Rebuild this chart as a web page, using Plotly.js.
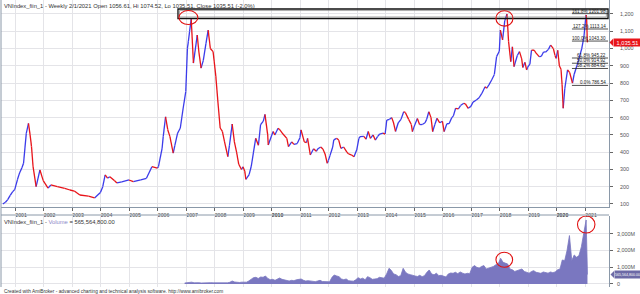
<!DOCTYPE html>
<html><head><meta charset="utf-8">
<script src="https://cdn.plot.ly/plotly-3.0.1.min.js"></script>
<style>html,body{margin:0;padding:0;background:#fff;}#chart{width:640px;height:294px;}</style>
</head><body><div id="chart"></div>
<script>
// ---------- DATA ----------
const priceDates = [
 '2000-07-28','2000-08-31','2000-09-29','2000-10-31','2000-11-30','2000-12-29',
 '2001-01-31','2001-02-28','2001-03-30','2001-04-20','2001-05-25','2001-06-22','2001-07-13','2001-07-31','2001-08-20','2001-09-28','2001-11-16','2001-12-28',
 '2002-02-28','2002-04-05','2002-06-28','2002-09-30','2002-12-06',
 '2003-01-31','2003-04-11','2003-07-31','2003-10-17','2003-12-31',
 '2004-01-30','2004-03-01','2004-03-31','2004-04-30','2004-06-30','2004-07-30','2004-09-30','2004-12-31',
 '2005-02-25','2005-05-31','2005-08-12','2005-10-21','2005-12-30',
 '2006-01-13','2006-02-28','2006-03-15','2006-04-14','2006-05-12','2006-06-09','2006-07-21','2006-08-11','2006-09-15','2006-10-20','2006-11-24','2006-12-29',
 '2007-01-19','2007-01-31','2007-02-16','2007-03-09','2007-04-06','2007-05-25','2007-06-15','2007-07-13','2007-08-10','2007-09-14','2007-10-12','2007-11-09','2007-12-14','2007-12-28',
 '2008-01-18','2008-02-15','2008-03-14','2008-04-11','2008-05-09','2008-06-20','2008-07-11','2008-08-15','2008-09-12','2008-10-10','2008-11-07','2008-12-12','2008-12-31',
 '2009-01-23','2009-02-06','2009-03-20','2009-04-17','2009-05-15','2009-06-12','2009-07-17','2009-08-14','2009-09-18','2009-10-09','2009-11-13','2009-11-20','2009-12-31',
 '2010-01-22','2010-02-12','2010-03-26','2010-04-16','2010-05-28','2010-07-16','2010-08-06','2010-09-17','2010-10-15','2010-11-26','2010-12-31',
 '2011-01-14','2011-02-25','2011-03-25','2011-04-08','2011-05-13','2011-06-24','2011-07-29','2011-08-19','2011-09-23','2011-10-21','2011-11-18','2011-12-16','2011-12-30',
 '2012-01-20','2012-02-24','2012-03-09','2012-04-13','2012-05-11','2012-06-08','2012-07-13','2012-08-24','2012-09-14','2012-10-19','2012-11-23','2012-12-28',
 '2013-01-25','2013-02-08','2013-03-29','2013-04-26','2013-05-24','2013-06-21','2013-07-26','2013-08-23','2013-09-20','2013-10-18','2013-11-29','2013-12-27',
 '2014-01-17','2014-02-21','2014-03-21','2014-04-11','2014-05-09','2014-06-13','2014-07-18','2014-08-22','2014-09-12','2014-10-24','2014-11-28','2014-12-12','2014-12-31',
 '2015-02-13','2015-03-13','2015-04-17','2015-05-22','2015-06-12','2015-07-10','2015-08-07','2015-08-28','2015-09-25','2015-10-23','2015-11-27','2015-12-31',
 '2016-01-22','2016-02-26','2016-03-25','2016-04-29','2016-05-20','2016-06-17','2016-07-22','2016-08-19','2016-09-30','2016-10-21','2016-11-25','2016-12-30',
 '2017-01-27','2017-03-10','2017-04-14','2017-05-19','2017-06-30','2017-07-21','2017-08-18','2017-09-22','2017-10-27','2017-11-24','2017-12-29',
 '2018-01-12','2018-02-09','2018-03-09','2018-04-06','2018-04-27','2018-05-25','2018-06-15','2018-07-06','2018-08-17','2018-09-14','2018-10-12','2018-10-26','2018-11-23','2018-12-14','2018-12-28',
 '2019-01-25','2019-02-15','2019-03-22','2019-04-12','2019-05-24','2019-06-21','2019-07-19','2019-08-16','2019-09-20','2019-10-18','2019-11-22','2019-12-13','2019-12-27',
 '2020-01-17','2020-02-07','2020-02-28','2020-03-13','2020-03-27','2020-04-17','2020-05-22','2020-06-19','2020-07-24','2020-08-14','2020-09-18','2020-10-16','2020-11-20','2020-12-18',
 '2021-01-08','2021-01-15','2021-01-22','2021-01-29','2021-02-01'
];
const priceClose = [
 100,110,125,150,170,185,
 240,280,310,336,509,567,500,432,316,200,297,235,
 192,210,200,190,181,
 175,152,145,135,166,
 200,268,250,258,235,222,228,239,
 229,240,249,316,307,
 316,420,490,605,530,490,395,440,510,540,650,751,
 1000,1041,1100,1170,916,1078,980,887,930,1030,1107,1000,982,927,
 840,685,540,520,460,374,440,563,460,400,330,300,315,
 290,243,270,320,400,480,440,560,580,619,500,442,494,
 520,499,539,530,505,480,432,460,445,450,484,
 529,460,455,480,384,420,405,420,430,418,390,336,351,
 380,430,471,480,470,422,430,400,390,385,374,414,
 480,490,491,475,520,480,500,470,490,505,510,505,
 586,590,600,575,520,570,590,634,630,590,560,519,545,
 595,560,560,570,590,634,600,519,560,596,570,579,
 519,565,565,600,610,654,650,670,683,680,654,665,
 690,702,715,740,779,770,790,818,850,953,984,
 1107,1050,1160,1200,1040,924,1010,895,960,982,940,890,920,876,892,
 910,991,990,975,953,955,980,980,995,1020,1000,960,943,
 990,900,880,790,654,770,876,860,800,850,900,943,1000,1070,
 1170,1194,1165,1056.61,1035.51
];
// monthly volume (millions), from Dec 2006 to Jan 2021
const volStart = [2006, 12];
const volMillions = [
 60,
 90,100,110,70,90,80,60,70,80,100,80,70,
 70,60,50,70,60,70,100,180,120,100,90,110,
 90,110,180,300,380,400,330,420,400,480,330,260,
 280,220,300,360,280,230,200,180,220,200,250,260,
 300,220,180,200,170,150,140,180,220,150,130,120,
 130,400,540,480,440,300,260,300,200,180,170,250,
 380,300,350,250,440,380,280,300,320,400,380,350,
 600,940,820,600,560,450,500,940,700,600,560,500,
 480,450,520,440,500,700,840,600,550,650,500,520,
 480,420,600,660,640,700,620,720,650,600,640,620,
 1000,1100,1000,950,1050,1100,900,950,1000,1050,1150,1200,
 1540,1300,1250,1200,900,850,750,800,850,900,750,700,
 650,750,800,700,650,640,720,700,650,720,680,720,
 850,900,1437,1400,2000,2900,1400,1737,1600,1700,2233,3036,
 3832
];
const lastVolDate = '2021-02-01';
const lastVolume = 565564800;
const lastClose = 1035.51;

const years = [2001,2002,2003,2004,2005,2006,2007,2008,2009,2010,2011,2012,2013,2014,2015,2016,2017,2018,2019,2020,2021];
const priceTicks = [100,200,300,400,500,600,700,800,900,1000,1100,1200];
const volTicks = [0,1e9,2e9,3e9];
const volTickText = ['0','1,000M','2,000M','3,000M'];

const fibPctLabels = ['0.0%','38.2%','50.0%','61.8%','100.0%','127.2%','161.8%'];
const fibLevels = [786.54,884.62,914.92,945.22,1043.30,1113.14,1201.98];
const fibStart = '2020-07-17', fibEnd = '2021-10-23';

const titleText = 'VNIndex_fiin_1 - Weekly 2/1/2021 Open 1056.61, Hi 1074.52, Lo 1035.51, Close 1035.51 (-2.0%)';
const volTitle = 'VNIndex_fiin_1 - <span style="color:#8c86c8">Volume</span> = 565,564,800.00';
const footer = 'Created with AmiBroker - advanced charting and technical analysis software. http://www.amibroker.com';

// ---------- BUILD ----------
const upX=[],upY=[],dnX=[],dnY=[];
for (let i=1;i<priceDates.length;i++){
  const up = priceClose[i] >= priceClose[i-1];
  const X = up?upX:dnX, Y = up?upY:dnY;
  X.push(priceDates[i-1],priceDates[i],null);
  Y.push(priceClose[i-1],priceClose[i],null);
}
const volX=[], volY=[];
for (let k=0;k<volMillions.length;k++){
  const m0 = volStart[1]-1+k;
  const yy = volStart[0]+Math.floor(m0/12), mm = (m0%12)+1;
  volX.push(yy+'-'+String(mm).padStart(2,'0')+'-15');
  volY.push(volMillions[k]*1e6);
}
volX.push(lastVolDate); volY.push(lastVolume);

const H=294, W=640, L=1, R=31;
const px2py = p => 1 - p/H;
const px2px = p => (p-L)/(W-L-R);
const FONT = 'Liberation Sans, Arial, sans-serif';
const BLUE = '#3b3bea', RED = '#e8141a', VOL = '#7a77c0';
const GRID = '#e4e4e8', AXC = '#8a98a8';

const traces = [
  {x:upX, y:upY, type:'scatter', mode:'lines', line:{color:BLUE, width:1.3}, connectgaps:false, hoverinfo:'skip'},
  {x:dnX, y:dnY, type:'scatter', mode:'lines', line:{color:RED, width:1.3}, connectgaps:false, hoverinfo:'skip'},
  {x:volX, y:volY, yaxis:'y2', type:'scatter', mode:'lines', fill:'tozeroy', fillcolor:VOL, line:{color:VOL, width:0.8}, hoverinfo:'skip'}
];

const shapes = [];
const annotations = [];
shapes.push({type:'rect', xref:'x', yref:'y', x0:'2006-09-20', x1:'2021-10-23', y0:1174, y1:1229, line:{color:'#111', width:1.3}});
shapes.push({type:'rect', xref:'x', yref:'y', x0:'2006-10-10', x1:'2021-10-01', y0:1183, y1:1220, line:{color:'#777', width:0.6}});
fibLevels.forEach((v,i)=>{
  shapes.push({type:'line', xref:'x', yref:'y', x0:fibStart, x1:fibEnd, y0:v, y1:v, line:{color:'#222', width:0.8}});
  annotations.push({xref:'x', yref:'y', x:fibEnd, y:v, text:fibPctLabels[i]+' '+v.toFixed(2), showarrow:false, xanchor:'right', yanchor:'bottom', yshift:-2, font:{family:FONT, size:4.6, color:'#222'}});
});
const circ = (xr,yr,x0,x1,y0,y1)=>({type:'circle', xref:xr, yref:yr, x0, x1, y0, y1, line:{color:'#e01010', width:1.1}});
shapes.push(circ('x','y','2006-10-02','2007-06-02',1139,1220));
shapes.push(circ('x','y','2017-11-16','2018-06-22',1130,1219));
shapes.push(circ('x','y2','2017-11-16','2018-06-18',1.0e9,1.9e9));
shapes.push(circ('x','y2','2020-09-26','2021-05-08',3.05e9,4.07e9));
shapes.push({type:'line', xref:'paper', yref:'paper', x0:0, x1:1, y0:px2py(215), y1:px2py(215), line:{color:AXC, width:1}});
shapes.push({type:'line', xref:'paper', yref:'paper', x0:0, x1:0, y0:px2py(287), y1:1, line:{color:AXC, width:1}});
shapes.push({type:'path', xref:'paper', yref:'y', path:`M ${px2px(609.5)} ${lastClose} L ${px2px(613)} ${lastClose+21} L ${px2px(613)} ${lastClose-21} Z`, fillcolor:RED, line:{width:0}});
annotations.push({xref:'paper', yref:'y', x:px2px(613), y:lastClose, xanchor:'left', yanchor:'middle', text:'1,035.51', showarrow:false, bgcolor:RED, borderpad:0, height:7, width:27, font:{family:FONT, size:5.6, color:'#fff'}});
shapes.push({type:'path', xref:'paper', yref:'y2', path:`M ${px2px(610.5)} ${lastVolume} L ${px2px(614)} ${lastVolume+2.1e8} L ${px2px(614)} ${lastVolume-2.1e8} Z`, fillcolor:'#6c6aa6', line:{width:0}});
annotations.push({xref:'paper', yref:'y2', x:px2px(614), y:lastVolume, xanchor:'left', yanchor:'middle', text:'565,564,800.00', showarrow:false, bgcolor:'#6c6aa6', borderpad:0, height:7, font:{family:FONT, size:3.6, color:'#fff'}});
annotations.push({xref:'paper', yref:'paper', x:px2px(2), y:px2py(1), xanchor:'left', yanchor:'top', text:titleText, showarrow:false, font:{family:FONT, size:5.8, color:'#333'}});
annotations.push({xref:'paper', yref:'paper', x:px2px(2), y:px2py(216.5), xanchor:'left', yanchor:'top', text:volTitle, showarrow:false, font:{family:FONT, size:5.8, color:'#333'}});
annotations.push({xref:'paper', yref:'paper', x:px2px(2), y:px2py(287), xanchor:'left', yanchor:'top', text:footer, showarrow:false, font:{family:FONT, size:4.8, color:'#333'}});

const layout = {
  width:W, height:H, margin:{l:L, r:R, t:0, b:0},
  paper_bgcolor:'#fff', plot_bgcolor:'#fff', showlegend:false, hovermode:false,
  xaxis:{type:'date', range:['2000-07-05','2021-11-04'], domain:[0,1], anchor:'y',
    tickvals:years.map(y=>y+'-01-01'), ticktext:years.map(y=> y%10===0 ? '<b>'+y+'</b>' : String(y)),
    showgrid:true, gridcolor:GRID, gridwidth:1, zeroline:false,
    showline:true, linecolor:AXC, linewidth:1, ticks:'outside', ticklen:2.5, tickcolor:'#666', tickwidth:1,
    ticklabelshift:6, ticklabelstandoff:0, tickangle:0,
    tickfont:{family:FONT, size:5.2, color:'#444'}},
  yaxis:{domain:[px2py(207),1], range:[82.6,1281], side:'right', anchor:'x',
    tickvals:priceTicks, tickformat:',d', showgrid:true, gridcolor:GRID, zeroline:false,
    showline:true, linecolor:AXC, ticks:'outside', ticklen:3, tickcolor:'#666',
    ticklabelstandoff:6, tickfont:{family:FONT, size:5.4, color:'#555'}},
  yaxis2:{domain:[px2py(287),px2py(215.5)], range:[-1.8e8,4.1e9], side:'right', anchor:'x',
    tickvals:volTicks, ticktext:volTickText, showgrid:true, gridcolor:GRID, zeroline:false,
    showline:true, linecolor:AXC, ticks:'outside', ticklen:3, tickcolor:'#666',
    ticklabelstandoff:3, tickfont:{family:FONT, size:5.4, color:'#555'}},
  shapes, annotations
};
Plotly.newPlot('chart', traces, layout, {staticPlot:true, displayModeBar:false});
</script></body></html>
